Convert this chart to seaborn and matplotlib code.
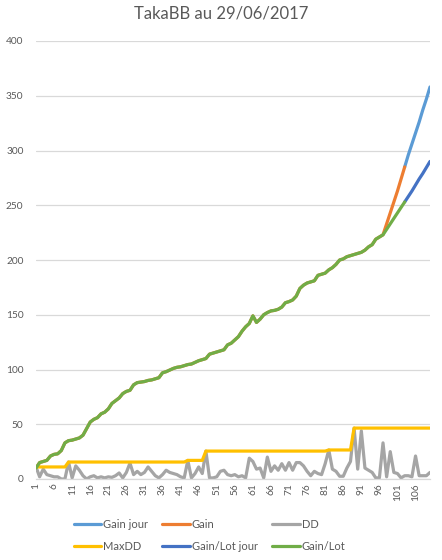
import matplotlib
matplotlib.use("Agg")
import matplotlib.pyplot as plt
import seaborn as sns
import pandas as pd
from matplotlib.lines import Line2D

# ---------------- data ----------------
categories = list(range(1, 111))
xtick_labels = [str(c) for c in range(1, 110, 5)]

# categories 1..103
gain_lot = [10, 15, 16, 17, 21, 22.5, 23, 26, 33, 35,
            35.5, 36.5, 37.5, 40, 46, 52, 54.5, 56, 59.5, 61,
            64, 69, 71.5, 74, 78, 80, 81, 86, 88, 88.5,
            89, 90, 90.5, 91.5, 92.5, 97, 98, 99.5, 101, 102,
            102.5, 103.5, 104.5, 105, 106.5, 108, 109, 110, 114, 115,
            116, 117, 118, 122.5, 124, 127, 130, 135, 139, 142,
            149, 143, 146, 150, 152, 153.5, 154, 155, 157, 161,
            162, 163.5, 167, 174, 177, 179, 180, 181, 186, 187,
            188, 191, 193, 196, 200, 201, 203, 204, 205, 206,
            207, 209, 212, 214, 219, 221, 223, 228, 233, 238,
            243, 248, 253]
gain = [10, 15, 16, 17, 21, 22.5, 23, 26, 33, 35,
        35.5, 36.5, 37.5, 40, 46, 52, 54.5, 56, 59.5, 61,
        64, 69, 71.5, 74, 78, 80, 81, 86, 88, 88.5,
        89, 90, 90.5, 91.5, 92.5, 97, 98, 99.5, 101, 102,
        102.5, 103.5, 104.5, 105, 106.5, 108, 109, 110, 114, 115,
        116, 117, 118, 122.5, 124, 127, 130, 135, 139, 142,
        149, 143, 146, 150, 152, 153.5, 154, 155, 157, 161,
        162, 163.5, 167, 174, 177, 179, 180, 181, 186, 187,
        188, 191, 193, 196, 200, 201, 203, 204, 205, 206,
        207, 209, 212, 214, 219, 221, 223, 233, 243, 253,
        263, 274, 285]
# categories 103..110
gain_jour = [285, 296, 306, 316, 326, 337, 347, 358]
gain_lot_jour = [253, 258, 263, 268.5, 274, 279, 284.5, 290]

dd = [11, 2, 9, 4, 3, 2, 2, 0, 0, 15.5,
      1, 12, 8, 3, 0, 2, 3, 1, 2, 1,
      2, 1.5, 3, 5.5, 1, 6, 14.5, 4, 7, 4,
      6, 11, 7, 3, 1, 4, 8, 6, 5, 4,
      2, 1, 17, 1, 5, 11, 5, 25.5, 1, 1,
      2, 7, 8, 4, 3, 4, 2, 3, 1, 19,
      16, 9, 10, 1, 20, 7, 12, 8, 14, 8,
      15, 8, 15, 15, 12, 7, 3, 7, 5, 4,
      14, 26.5, 9, 7, 2.5, 2.5, 10, 16, 46.5, 9,
      44, 10, 8, 6, 1, 1, 33, 2, 25, 6,
      5, 1, 3, 3, 2, 21, 3, 3, 3, 6]
maxdd = [11, 11, 11, 11, 11, 11, 11, 11, 11, 15.5,
         15.5, 15.5, 15.5, 15.5, 15.5, 15.5, 15.5, 15.5, 15.5, 15.5,
         15.5, 15.5, 15.5, 15.5, 15.5, 15.5, 15.5, 15.5, 15.5, 15.5,
         15.5, 15.5, 15.5, 15.5, 15.5, 15.5, 15.5, 15.5, 15.5, 15.5,
         15.5, 15.5, 17, 17, 17, 17, 17, 25.5, 25.5, 25.5,
         25.5, 25.5, 25.5, 25.5, 25.5, 25.5, 25.5, 25.5, 25.5, 25.5,
         25.5, 25.5, 25.5, 25.5, 25.5, 25.5, 25.5, 25.5, 25.5, 25.5,
         25.5, 25.5, 25.5, 25.5, 25.5, 25.5, 25.5, 25.5, 25.5, 25.5,
         25.5, 26.5, 26.5, 26.5, 26.5, 26.5, 26.5, 26.5, 46.5, 46.5,
         46.5, 46.5, 46.5, 46.5, 46.5, 46.5, 46.5, 46.5, 46.5, 46.5,
         46.5, 46.5, 46.5, 46.5, 46.5, 46.5, 46.5, 46.5, 46.5, 46.5]

series_names = ["Gain jour", "Gain", "DD", "MaxDD", "Gain/Lot jour", "Gain/Lot"]
colors = ["#5B9BD5", "#ED7D31", "#A5A5A5", "#FFC000", "#4472C4", "#70AD47"]

# ---------------- build table ----------------
rows = []
def add(name, cats, vals):
    for c, v in zip(cats, vals):
        rows.append({"cat": c, "value": v, "series": name})

add("Gain jour", categories[102:110], gain_jour)
add("Gain", categories[:103], gain)
add("DD", categories, dd)
add("MaxDD", categories, maxdd)
add("Gain/Lot jour", categories[102:110], gain_lot_jour)
add("Gain/Lot", categories[:103], gain_lot)
df = pd.DataFrame(rows)

# ---------------- plot ----------------
sns.set_theme(style="white")
plt.rcParams["font.family"] = ["Lato", "DejaVu Sans"]

W, H = 442, 560
fig = plt.figure(figsize=(W / 100, H / 100), dpi=100)
L, R, T, B = 36, 430, 41, 479
ax = fig.add_axes([L / W, 1 - B / H, (R - L) / W, (B - T) / H])

palette = dict(zip(series_names, colors))
sns.lineplot(data=df, x="cat", y="value", hue="series", hue_order=series_names,
             palette=palette, linewidth=2.3, estimator=None, errorbar=None,
             legend=False, ax=ax, solid_joinstyle="round", solid_capstyle="round")

ax.set_xlim(1, 110)
ax.set_ylim(0, 400)
ax.set_yticks(range(0, 401, 50))
ax.set_xticks(range(1, 110, 5))
ax.set_xticklabels(xtick_labels, rotation=90)
ax.set_xlabel("")
ax.set_ylabel("")
ax.grid(axis="y", color="#D9D9D9", linewidth=0.9)
ax.grid(axis="x", visible=False)
ax.set_axisbelow(True)
for s in ["top", "right", "left"]:
    ax.spines[s].set_visible(False)
ax.spines["bottom"].set_color("#D9D9D9")
ax.spines["bottom"].set_linewidth(0.9)
ax.tick_params(axis="both", length=0, labelsize=7.3, colors="#595959")
ax.tick_params(axis="y", pad=9)
ax.tick_params(axis="x", pad=3)

fig.text(0.5, 1 - 13.5 / H, "TakaBB au 29/06/2017", ha="center", va="center",
         fontsize=12, color="#595959")

# legend (matplotlib fills column-wise; order so rows read like Excel)
order = [0, 3, 1, 4, 2, 5]
handles = [Line2D([0], [0], color=colors[i], lw=2.3) for i in order]
labels = [series_names[i] for i in order]
leg = fig.legend(handles, labels, loc="center", ncol=3, frameon=False,
                 bbox_to_anchor=(209.5 / W, 1 - 535.5 / H), fontsize=8,
                 handlelength=2.45, handletextpad=0.2, columnspacing=1.3,
                 labelspacing=1.05, borderpad=0)
for t in leg.get_texts():
    t.set_color("#595959")

fig.savefig("out.png", dpi=100)
